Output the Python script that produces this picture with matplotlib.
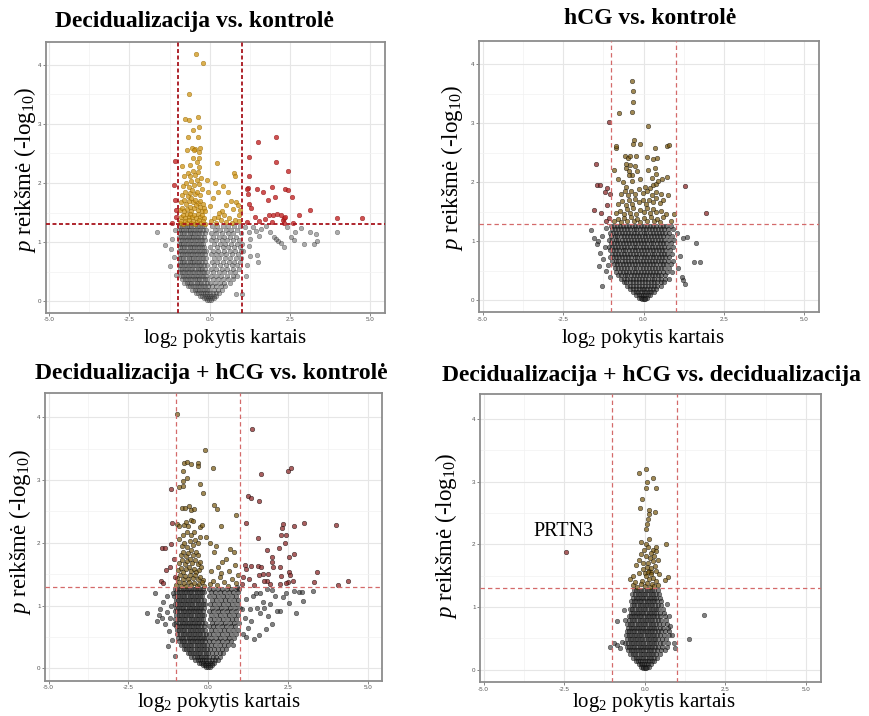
import numpy as np
import matplotlib
matplotlib.use("Agg")
import matplotlib.pyplot as plt
from matplotlib.ticker import MultipleLocator, FuncFormatter

plt.rcParams['font.family'] = ['Liberation Serif', 'DejaVu Serif']
plt.rcParams['mathtext.fontset'] = 'custom'
plt.rcParams['mathtext.rm'] = 'Liberation Serif'
plt.rcParams['mathtext.it'] = 'Liberation Serif:italic'

W, H = 869, 716

titles = ["Decidualizacija vs. kontrolė", "hCG vs. kontrolė",
          "Decidualizacija + hCG vs. kontrolė", "Decidualizacija + hCG vs. decidualizacija"]
x_label = "log$_2$ pokytis kartais"
y_label = "$p$ reikšmė (-log$_{10}$)"
fc_cut = 1.0
p_cut = 1.3

# ---- Decidualizacija vs. kontrolė : individually read points (log2FC, -log10 p)
dec_points = [
    (-0.42, 4.18), (-0.22, 4.03), (-0.64, 3.50), (-0.77, 3.09), (-0.65, 3.06), (-0.35, 3.11),
    (-0.52, 2.89), (-0.34, 2.94), (-0.69, 2.78), (-0.38, 2.78), (-0.56, 2.60), (-0.47, 2.58),
    (-0.29, 2.60), (-0.70, 2.55), (-0.50, 2.55), (-0.34, 2.52), (-0.51, 2.42), (-0.33, 2.42),
    (-0.86, 2.28), (-0.62, 2.30), (-0.40, 2.35), (-0.32, 2.27),
    (-0.79, 2.12), (-0.68, 2.17), (-0.60, 2.11), (-0.52, 2.20), (-0.45, 2.14), (-0.36, 2.19),
    (-0.83, 1.95), (-0.74, 2.00), (-0.66, 1.94), (-0.58, 2.03), (-0.49, 1.97), (-0.41, 2.05),
    (-0.33, 1.99), (-0.27, 2.08),
    (-0.86, 1.80), (-0.77, 1.84), (-0.69, 1.78), (-0.61, 1.83), (-0.54, 1.88), (-0.47, 1.81),
    (-0.39, 1.85), (-0.31, 1.79), (-0.24, 1.90),
    (-0.88, 1.67), (-0.80, 1.71), (-0.73, 1.65), (-0.66, 1.69), (-0.59, 1.74), (-0.52, 1.68),
    (-0.45, 1.72), (-0.38, 1.66), (-0.30, 1.70), (-0.22, 1.64),
    (-0.92, 1.55), (-0.85, 1.58), (-0.79, 1.52), (-0.71, 1.56), (-0.63, 1.60), (-0.57, 1.53),
    (-0.50, 1.57), (-0.44, 1.62), (-0.37, 1.55), (-0.31, 1.59), (-0.25, 1.53), (-0.19, 1.57),
    (-0.90, 1.42), (-0.84, 1.46), (-0.78, 1.41), (-0.72, 1.47), (-0.66, 1.43), (-0.60, 1.48),
    (-0.54, 1.42), (-0.48, 1.46), (-0.42, 1.41), (-0.36, 1.47), (-0.30, 1.43), (-0.24, 1.45),
    (-0.18, 1.40),
    (-0.93, 1.33), (-0.88, 1.36), (-0.82, 1.31), (-0.76, 1.35), (-0.70, 1.32), (-0.64, 1.37),
    (-0.58, 1.33), (-0.52, 1.36), (-0.46, 1.31), (-0.40, 1.34), (-0.34, 1.38), (-0.28, 1.32),
    (-0.22, 1.35), (-0.16, 1.31),
    (0.22, 2.34), (0.76, 2.17), (0.78, 2.11), (0.27, 1.85), (0.58, 1.85), (0.82, 1.67),
    (0.87, 1.63), (0.72, 1.56), (0.38, 1.52), (0.28, 1.50), (0.27, 1.42), (0.01, 1.61),
    (-0.14, 1.53), (0.05, 1.35), (0.12, 1.40), (0.18, 1.33), (0.35, 1.37), (0.45, 1.45),
    (0.52, 1.34), (0.60, 1.40), (0.68, 1.32), (0.80, 1.38), (0.92, 1.45), (0.95, 1.55),
    (0.90, 1.35), (0.10, 1.75), (0.40, 1.95), (0.15, 2.00), (0.65, 1.70), (0.50, 1.62),
    (-0.05, 1.85), (-0.10, 2.05),
    (1.50, 2.70), (2.07, 2.77), (1.21, 2.44), (2.07, 2.36), (2.43, 2.21), (1.23, 2.11),
    (1.19, 1.91), (1.47, 1.89), (1.16, 1.90), (1.20, 1.82), (1.66, 1.84), (1.93, 1.93),
    (2.04, 1.77), (2.36, 1.89), (2.43, 1.88), (2.55, 1.76), (1.80, 1.71), (1.23, 1.65),
    (1.30, 1.58), (1.40, 1.42), (1.54, 1.35), (1.71, 1.39), (1.85, 1.46), (1.97, 1.46),
    (2.08, 1.47), (2.21, 1.46), (2.27, 1.37), (2.31, 1.40), (2.36, 1.42), (2.77, 1.46),
    (3.11, 1.55), (3.98, 1.40), (4.74, 1.41), (1.15, 1.34), (1.93, 1.34), (2.60, 1.32),
    (2.30, 1.33),
    (-1.07, 2.38), (-1.10, 1.97), (-1.07, 1.71), (-1.05, 1.55), (-1.18, 1.32), (-1.04, 1.42),
    (-1.64, 1.17), (-1.38, 0.95), (-1.25, 0.59), (-1.18, 1.06), (-1.21, 0.89), (-1.12, 0.75),
    (-1.08, 1.20), (-1.05, 0.45),
    (1.23, 1.17), (1.27, 1.06), (1.21, 0.94), (1.25, 0.76), (1.50, 0.66), (1.47, 0.78),
    (1.12, 0.43), (1.43, 1.19), (1.61, 1.22), (1.74, 1.27), (1.89, 1.17), (1.99, 1.09),
    (2.13, 1.01), (2.23, 0.99), (2.30, 0.91), (2.07, 1.05), (2.52, 1.08), (2.61, 1.04),
    (2.67, 1.17), (2.85, 1.23), (2.94, 0.96), (3.11, 1.17), (3.25, 0.96), (3.33, 1.02),
    (3.31, 1.13), (3.98, 1.17), (0.99, 0.12), (0.81, 0.12), (1.05, 0.85), (1.10, 1.25),
    (1.35, 1.25), (1.55, 1.10), (2.40, 1.25), (1.15, 0.62),
]

# dense non-significant cloud, read row by row: (-log10 p, [log2FC, ...])
dec_core = [
    (1.27, [-0.95, -0.87, -0.80, -0.72, -0.64, -0.57, -0.49, -0.41, -0.33, -0.25, -0.17, 0.06, 0.24, 0.41, 0.58, 0.76, 0.93]),
    (1.21, [-0.97, -0.90, -0.83, -0.75, -0.68, -0.60, -0.52, -0.45, -0.37, -0.29, -0.21, -0.13, 0.15, 0.33, 0.50, 0.67, 0.85]),
    (1.15, [-0.94, -0.86, -0.79, -0.71, -0.63, -0.56, -0.48, -0.40, -0.32, -0.24, -0.16, 0.03, 0.21, 0.39, 0.56, 0.74, 0.97]),
    (1.09, [-0.96, -0.89, -0.81, -0.74, -0.66, -0.58, -0.51, -0.43, -0.35, -0.27, -0.19, 0.11, 0.29, 0.46, 0.63, 0.81]),
    (1.03, [-0.93, -0.85, -0.78, -0.70, -0.62, -0.55, -0.47, -0.39, -0.31, -0.23, -0.15, 0.05, 0.20, 0.37, 0.54, 0.72, 0.90]),
    (0.97, [-0.97, -0.90, -0.82, -0.74, -0.67, -0.59, -0.51, -0.44, -0.36, -0.28, -0.20, 0.13, 0.31, 0.48, 0.66, 0.84, 0.99]),
    (0.91, [-0.94, -0.87, -0.79, -0.71, -0.63, -0.56, -0.48, -0.40, -0.33, -0.25, -0.17, 0.02, 0.22, 0.40, 0.58, 0.76, 0.94]),
    (0.85, [-0.96, -0.88, -0.81, -0.73, -0.65, -0.58, -0.50, -0.42, -0.34, -0.27, -0.19, -0.11, 0.09, 0.27, 0.45, 0.62, 0.80, 0.97]),
    (0.79, [-0.93, -0.85, -0.78, -0.70, -0.62, -0.54, -0.47, -0.39, -0.31, -0.23, -0.15, 0.04, 0.18, 0.35, 0.52, 0.70, 0.88]),
    (0.73, [-0.97, -0.89, -0.82, -0.74, -0.66, -0.59, -0.51, -0.43, -0.35, -0.28, -0.20, -0.12, 0.12, 0.30, 0.47, 0.64, 0.82, 0.98]),
    (0.67, [-0.94, -0.86, -0.79, -0.71, -0.63, -0.55, -0.48, -0.40, -0.32, -0.24, -0.16, 0.06, 0.24, 0.41, 0.59, 0.77, 0.93]),
    (0.61, [-0.96, -0.88, -0.80, -0.73, -0.65, -0.57, -0.50, -0.42, -0.34, -0.26, -0.18, -0.10, 0.14, 0.32, 0.50, 0.68, 0.86]),
    (0.55, [-0.93, -0.85, -0.77, -0.70, -0.62, -0.54, -0.46, -0.38, -0.31, -0.23, -0.15, 0.03, 0.20, 0.38, 0.55, 0.73, 0.92]),
    (0.49, [-0.95, -0.87, -0.79, -0.72, -0.64, -0.56, -0.48, -0.41, -0.33, -0.25, -0.17, -0.09, 0.11, 0.28, 0.46, 0.63, 0.80]),
    (0.43, [-0.90, -0.82, -0.75, -0.67, -0.59, -0.51, -0.44, -0.36, -0.28, -0.20, -0.12, 0.05, 0.19, 0.36, 0.53, 0.71, 0.86]),
    (0.37, [-0.86, -0.78, -0.71, -0.63, -0.55, -0.47, -0.40, -0.32, -0.24, -0.16, -0.08, 0.10, 0.26, 0.42, 0.58, 0.74]),
    (0.31, [-0.80, -0.72, -0.64, -0.57, -0.49, -0.41, -0.33, -0.26, -0.18, -0.10, 0.02, 0.16, 0.31, 0.46, 0.62]),
    (0.25, [-0.68, -0.60, -0.53, -0.45, -0.37, -0.30, -0.22, -0.14, -0.06, 0.07, 0.20, 0.34, 0.48]),
    (0.19, [-0.55, -0.47, -0.40, -0.32, -0.25, -0.17, -0.10, -0.02, 0.12, 0.25, 0.38]),
    (0.14, [-0.42, -0.35, -0.28, -0.21, -0.14, -0.07, 0.01, 0.10, 0.20, 0.30]),
    (0.09, [-0.30, -0.23, -0.16, -0.09, -0.03, 0.05, 0.13, 0.21]),
    (0.05, [-0.19, -0.12, -0.06, 0.00, 0.07, 0.14]),
    (0.02, [-0.08, -0.02, 0.04]),
]

# ---- hCG vs. kontrolė
hcg_points = [
    (-0.37, 3.72), (-0.34, 3.54), (-0.34, 3.37), (-0.37, 3.20), (-0.75, 3.17), (0.14, 2.95),
    (-0.30, 2.72), (-0.12, 2.65), (-0.32, 2.65), (-0.87, 2.59), (-0.85, 2.61), (0.35, 2.59),
    (0.74, 2.61), (0.80, 2.63),
    (-0.58, 2.44), (-0.48, 2.42), (-0.43, 2.45), (-0.24, 2.44), (0.11, 2.43), (0.30, 2.40),
    (0.42, 2.41), (-0.53, 2.32), (-0.41, 2.30), (-0.25, 2.27), (-0.55, 2.24), (-0.46, 2.19),
    (-0.35, 2.12), (-0.20, 2.20), (-0.45, 2.13), (-0.92, 2.21), (0.14, 2.21), (0.35, 2.25),
    (0.40, 2.15), (0.74, 2.10),
    (-0.65, 2.00), (-0.55, 1.93), (0.05, 1.93), (0.20, 1.90), (0.30, 1.96), (0.38, 1.98),
    (0.46, 2.02), (-0.80, 2.05), (-0.35, 2.03), (-0.10, 2.06), (0.25, 2.08), (0.58, 2.05),
    (-0.70, 1.80), (-0.58, 1.85), (-0.48, 1.78), (-0.38, 1.86), (-0.26, 1.80), (-0.15, 1.88),
    (-0.02, 1.82), (0.12, 1.85), (0.25, 1.79), (0.40, 1.84), (0.55, 1.80), (0.75, 1.78),
    (-0.78, 1.63), (-0.66, 1.68), (-0.55, 1.62), (-0.45, 1.70), (-0.35, 1.64), (-0.25, 1.72),
    (-0.15, 1.66), (-0.03, 1.70), (0.08, 1.63), (0.18, 1.71), (0.28, 1.66), (0.38, 1.73),
    (0.50, 1.65), (0.62, 1.70),
    (-0.85, 1.48), (-0.72, 1.52), (-0.62, 1.46), (-0.52, 1.55), (-0.42, 1.49), (-0.32, 1.56),
    (-0.22, 1.47), (-0.12, 1.53), (0.00, 1.50), (0.10, 1.57), (0.20, 1.48), (0.30, 1.55),
    (0.40, 1.50), (0.55, 1.52), (0.70, 1.47), (0.95, 1.46),
    (-0.92, 1.35), (-0.80, 1.38), (-0.70, 1.33), (-0.60, 1.40), (-0.50, 1.35), (-0.40, 1.42),
    (-0.30, 1.34), (-0.20, 1.38), (-0.10, 1.33), (0.02, 1.40), (0.12, 1.35), (0.22, 1.42),
    (0.32, 1.34), (0.42, 1.38), (0.52, 1.33), (0.62, 1.41), (0.85, 1.35),
    (-1.07, 3.03), (-1.49, 2.32), (-1.43, 1.95), (-1.34, 1.96), (-1.13, 1.90), (-1.20, 1.83),
    (-1.05, 1.80), (-1.55, 1.54), (-1.31, 1.49), (-1.12, 1.62), (-1.08, 1.40), (-1.18, 1.35),
    (1.30, 1.94), (1.93, 1.48),
    (1.62, 0.98), (1.58, 0.65), (1.75, 0.65), (1.34, 1.07), (1.22, 1.05), (1.23, 0.34),
    (1.18, 0.40), (1.28, 0.28), (1.08, 0.55), (1.12, 0.75), (1.05, 1.15), (-1.62, 1.19),
    (-1.29, 0.25), (-1.38, 0.59), (-1.54, 1.06), (-1.45, 0.95), (-1.30, 1.10), (-1.20, 0.90),
    (-1.35, 0.80), (-1.15, 1.22), (-1.10, 0.60), (-1.25, 0.70), (-1.05, 0.40), (-1.42, 1.00),
    (-1.18, 0.50),
]

hcg_core = [
    (1.27, [-1.02, -0.93, -0.83, -0.74, -0.64, -0.55, -0.45, -0.36, -0.26, -0.17, -0.07, 0.02, 0.12, 0.21, 0.31, 0.40, 0.50, 0.59, 0.69, 0.84]),
    (1.21, [-0.98, -0.88, -0.79, -0.69, -0.60, -0.50, -0.41, -0.31, -0.22, -0.12, -0.03, 0.07, 0.16, 0.26, 0.35, 0.45, 0.54, 0.64, 0.75, 0.92]),
    (1.15, [-1.05, -0.95, -0.86, -0.76, -0.67, -0.57, -0.48, -0.38, -0.29, -0.19, -0.10, 0.00, 0.09, 0.19, 0.28, 0.38, 0.47, 0.57, 0.67, 0.80]),
    (1.09, [-1.00, -0.90, -0.81, -0.71, -0.62, -0.52, -0.43, -0.33, -0.24, -0.14, -0.05, 0.05, 0.14, 0.24, 0.33, 0.43, 0.52, 0.62, 0.72, 0.88]),
    (1.03, [-1.07, -0.97, -0.87, -0.78, -0.68, -0.59, -0.49, -0.40, -0.30, -0.21, -0.11, -0.02, 0.08, 0.17, 0.27, 0.36, 0.46, 0.55, 0.65, 0.78, 0.95]),
    (0.97, [-1.02, -0.92, -0.83, -0.73, -0.64, -0.54, -0.45, -0.35, -0.26, -0.16, -0.07, 0.03, 0.12, 0.22, 0.31, 0.41, 0.50, 0.60, 0.70, 0.85]),
    (0.91, [-1.08, -0.98, -0.88, -0.79, -0.69, -0.60, -0.50, -0.41, -0.31, -0.22, -0.12, -0.03, 0.07, 0.16, 0.26, 0.35, 0.45, 0.54, 0.64, 0.76, 0.92]),
    (0.85, [-1.03, -0.94, -0.84, -0.75, -0.65, -0.56, -0.46, -0.37, -0.27, -0.18, -0.08, 0.01, 0.11, 0.20, 0.30, 0.39, 0.49, 0.58, 0.68, 0.82]),
    (0.79, [-0.99, -0.89, -0.80, -0.70, -0.61, -0.51, -0.42, -0.32, -0.23, -0.13, -0.04, 0.06, 0.15, 0.25, 0.34, 0.44, 0.53, 0.63, 0.74, 0.90]),
    (0.73, [-1.04, -0.95, -0.85, -0.76, -0.66, -0.57, -0.47, -0.38, -0.28, -0.19, -0.09, 0.00, 0.10, 0.19, 0.29, 0.38, 0.48, 0.57, 0.67, 0.80]),
    (0.67, [-0.97, -0.87, -0.78, -0.68, -0.59, -0.49, -0.40, -0.30, -0.21, -0.11, -0.02, 0.08, 0.17, 0.27, 0.36, 0.46, 0.55, 0.65, 0.77, 0.93]),
    (0.61, [-0.93, -0.83, -0.74, -0.64, -0.55, -0.45, -0.36, -0.26, -0.17, -0.07, 0.02, 0.12, 0.21, 0.31, 0.40, 0.50, 0.59, 0.70, 0.84]),
    (0.55, [-0.88, -0.79, -0.69, -0.60, -0.50, -0.41, -0.31, -0.22, -0.12, -0.03, 0.07, 0.16, 0.26, 0.35, 0.45, 0.54, 0.64, 0.78]),
    (0.49, [-0.84, -0.74, -0.65, -0.55, -0.46, -0.36, -0.27, -0.17, -0.08, 0.02, 0.11, 0.21, 0.30, 0.40, 0.49, 0.59, 0.72, 0.88]),
    (0.43, [-0.78, -0.69, -0.59, -0.50, -0.40, -0.31, -0.21, -0.12, -0.02, 0.07, 0.17, 0.26, 0.36, 0.45, 0.55, 0.67]),
    (0.37, [-0.70, -0.61, -0.51, -0.42, -0.32, -0.23, -0.13, -0.04, 0.06, 0.15, 0.25, 0.34, 0.44, 0.54, 0.66, 0.80]),
    (0.31, [-0.62, -0.53, -0.43, -0.34, -0.24, -0.15, -0.05, 0.04, 0.14, 0.23, 0.33, 0.42, 0.53, 0.64]),
    (0.25, [-0.52, -0.43, -0.33, -0.24, -0.14, -0.05, 0.05, 0.14, 0.24, 0.33, 0.43, 0.55]),
    (0.19, [-0.42, -0.33, -0.24, -0.15, -0.06, 0.03, 0.12, 0.21, 0.30, 0.40]),
    (0.14, [-0.32, -0.24, -0.16, -0.08, 0.00, 0.08, 0.16, 0.24, 0.33]),
    (0.09, [-0.22, -0.15, -0.08, -0.01, 0.06, 0.13, 0.20]),
    (0.05, [-0.13, -0.07, -0.01, 0.05, 0.11]),
    (0.02, [-0.06, 0.00, 0.05]),
]

# ---- Decidualizacija + hCG vs. kontrolė
dhcg_points = [
    (-0.96, 4.05), (-0.10, 3.48), (-0.75, 3.27), (-0.67, 3.28), (-0.54, 3.25), (-0.33, 3.27),
    (-0.31, 3.22), (0.16, 3.19), (-0.77, 3.14), (-0.65, 3.03), (-0.79, 2.98), (-0.25, 2.94),
    (-0.91, 2.89), (-0.77, 2.90), (-0.17, 2.80), (0.19, 2.60), (0.29, 2.54), (-0.83, 2.55),
    (-0.73, 2.55), (-0.60, 2.58), (-0.54, 2.53), (-0.44, 2.54), (0.86, 2.45), (0.40, 2.26),
    (-0.96, 2.30), (-0.92, 2.27), (-0.75, 2.29), (-0.62, 2.27), (-0.68, 2.33), (-0.55, 2.37),
    (-0.48, 2.35), (-0.25, 2.25), (-0.20, 2.28),
    (-0.77, 2.12), (-0.66, 2.17), (-0.52, 2.12), (-0.44, 2.18), (-0.90, 2.06),
    (-0.82, 1.95), (-0.74, 2.00), (-0.65, 1.94), (-0.57, 2.03), (-0.48, 1.97), (-0.40, 2.05),
    (-0.32, 1.99), (-0.24, 2.10),
    (-0.86, 1.81), (-0.78, 1.85), (-0.70, 1.79), (-0.62, 1.84), (-0.54, 1.88), (-0.46, 1.81),
    (-0.38, 1.86), (-0.30, 1.80),
    (-0.90, 1.68), (-0.81, 1.72), (-0.73, 1.66), (-0.65, 1.71), (-0.57, 1.75), (-0.49, 1.68),
    (-0.41, 1.72), (-0.33, 1.66), (-0.25, 1.70),
    (-0.94, 1.56), (-0.85, 1.60), (-0.77, 1.54), (-0.69, 1.58), (-0.61, 1.62), (-0.53, 1.55),
    (-0.45, 1.59), (-0.37, 1.53), (-0.29, 1.57), (-0.21, 1.61),
    (-0.96, 1.44), (-0.88, 1.48), (-0.80, 1.42), (-0.72, 1.47), (-0.64, 1.43), (-0.56, 1.49),
    (-0.48, 1.44), (-0.40, 1.48), (-0.32, 1.42), (-0.24, 1.46), (-0.16, 1.41),
    (-1.00, 1.33), (-0.92, 1.37), (-0.84, 1.32), (-0.76, 1.36), (-0.68, 1.31), (-0.60, 1.38),
    (-0.52, 1.33), (-0.44, 1.36), (-0.36, 1.31), (-0.28, 1.35), (-0.20, 1.38), (-0.12, 1.32),
    (0.05, 1.35), (0.15, 1.40), (0.28, 1.33), (0.38, 1.45), (0.50, 1.38), (0.62, 1.32),
    (0.75, 1.42), (0.88, 1.36), (0.95, 1.48), (0.10, 1.55), (0.30, 1.62), (0.45, 1.70),
    (0.65, 1.55), (0.80, 1.85), (0.70, 1.90), (0.55, 1.75), (0.20, 1.85), (0.05, 2.00),
    (-0.05, 2.10), (0.25, 1.95), (0.85, 1.65), (0.40, 1.52), (0.92, 1.30),
    (1.39, 3.81), (1.65, 3.10), (2.51, 3.15), (2.59, 3.19), (1.25, 2.75), (1.36, 2.72),
    (1.60, 2.66), (1.18, 2.31), (2.36, 2.30), (2.33, 2.24), (2.27, 2.13), (2.43, 2.13),
    (2.70, 2.26), (3.01, 2.31), (4.01, 2.29), (1.58, 2.08), (2.40, 2.00), (2.23, 1.92),
    (1.84, 1.88), (2.01, 1.77), (2.01, 1.69), (2.03, 1.62), (2.26, 1.62), (2.69, 1.82),
    (2.53, 1.78), (1.34, 1.63), (1.55, 1.63), (1.67, 1.62), (1.88, 1.50), (1.71, 1.50),
    (1.85, 1.40), (2.55, 1.53), (2.57, 1.48), (2.51, 1.38), (2.65, 1.39), (2.28, 1.47),
    (2.26, 1.35), (2.44, 1.36), (3.41, 1.53), (3.32, 1.37), (4.08, 1.33), (4.37, 1.39),
    (1.18, 1.58), (1.60, 1.48), (1.76, 1.40), (1.10, 1.45), (1.05, 1.35), (1.28, 1.42),
    (1.45, 1.33), (1.15, 1.65), (1.95, 1.35),
    (-1.15, 2.85), (-1.43, 1.91), (-1.36, 1.91), (-1.33, 1.56), (-1.48, 1.40), (-1.42, 1.36),
    (-1.12, 2.31), (-1.15, 1.98), (-1.08, 1.75), (-1.20, 1.62), (-1.05, 1.45),
    (2.99, 1.07), (2.76, 0.88), (3.30, 1.23), (2.70, 1.23), (2.85, 1.21), (2.95, 1.22),
    (2.54, 1.04), (2.35, 1.13), (2.25, 0.92), (2.15, 0.92), (2.01, 0.70), (1.88, 0.84),
    (1.76, 0.97), (1.63, 0.88), (1.61, 0.53), (1.44, 0.47), (1.94, 1.03), (2.01, 1.25),
    (1.86, 1.26), (1.71, 1.05), (1.53, 0.96), (1.40, 1.15), (1.30, 0.95), (1.20, 1.10),
    (1.15, 0.80), (1.25, 0.65), (1.35, 0.75), (1.50, 1.20), (1.10, 0.55), (1.20, 0.50),
    (1.05, 0.95), (1.62, 1.20), (2.10, 1.15), (2.45, 1.20), (1.80, 0.62),
    (-1.90, 0.88), (-1.67, 1.20), (-1.50, 0.95), (-1.45, 0.80), (-1.40, 1.05), (-1.35, 0.70),
    (-1.30, 0.90), (-1.28, 1.15), (-1.22, 0.60), (-1.18, 0.80), (-1.15, 1.00), (-1.12, 0.45),
    (-1.10, 1.20), (-1.25, 0.35), (-1.55, 0.85), (-1.08, 0.70), (-1.60, 0.75), (-1.05, 0.20),
]

dhcg_core = [
    (1.27, [-1.04, -0.96, -0.88, -0.80, -0.72, -0.64, -0.56, -0.48, -0.40, -0.32, -0.24, -0.16, 0.02, 0.16, 0.30, 0.44, 0.58, 0.72, 0.86, 0.98]),
    (1.21, [-1.00, -0.92, -0.84, -0.76, -0.68, -0.60, -0.52, -0.44, -0.36, -0.28, -0.20, -0.12, 0.09, 0.23, 0.37, 0.51, 0.65, 0.79, 0.93]),
    (1.15, [-1.06, -0.98, -0.90, -0.82, -0.74, -0.66, -0.58, -0.50, -0.42, -0.34, -0.26, -0.18, 0.04, 0.18, 0.32, 0.46, 0.60, 0.74, 0.88]),
    (1.09, [-1.02, -0.94, -0.86, -0.78, -0.70, -0.62, -0.54, -0.46, -0.38, -0.30, -0.22, -0.14, 0.11, 0.25, 0.39, 0.53, 0.67, 0.81, 0.95]),
    (1.03, [-1.05, -0.97, -0.89, -0.81, -0.73, -0.65, -0.57, -0.49, -0.41, -0.33, -0.25, -0.17, -0.09, 0.06, 0.20, 0.34, 0.48, 0.62, 0.76, 0.90]),
    (0.97, [-1.01, -0.93, -0.85, -0.77, -0.69, -0.61, -0.53, -0.45, -0.37, -0.29, -0.21, -0.13, 0.13, 0.27, 0.41, 0.55, 0.69, 0.83, 0.99]),
    (0.91, [-1.04, -0.96, -0.88, -0.80, -0.72, -0.64, -0.56, -0.48, -0.40, -0.32, -0.24, -0.16, 0.03, 0.17, 0.31, 0.45, 0.59, 0.73, 0.87]),
    (0.85, [-1.00, -0.92, -0.84, -0.76, -0.68, -0.60, -0.52, -0.44, -0.36, -0.28, -0.20, -0.12, 0.10, 0.24, 0.38, 0.52, 0.66, 0.80, 0.94]),
    (0.79, [-1.03, -0.95, -0.87, -0.79, -0.71, -0.63, -0.55, -0.47, -0.39, -0.31, -0.23, -0.15, 0.05, 0.19, 0.33, 0.47, 0.61, 0.75, 0.89]),
    (0.73, [-0.99, -0.91, -0.83, -0.75, -0.67, -0.59, -0.51, -0.43, -0.35, -0.27, -0.19, -0.11, 0.12, 0.26, 0.40, 0.54, 0.68, 0.82, 0.97]),
    (0.67, [-1.02, -0.94, -0.86, -0.78, -0.70, -0.62, -0.54, -0.46, -0.38, -0.30, -0.22, -0.14, 0.02, 0.15, 0.29, 0.43, 0.57, 0.71, 0.85]),
    (0.61, [-0.98, -0.90, -0.82, -0.74, -0.66, -0.58, -0.50, -0.42, -0.34, -0.26, -0.18, -0.10, 0.08, 0.22, 0.36, 0.50, 0.64, 0.78, 0.93]),
    (0.55, [-0.96, -0.88, -0.80, -0.72, -0.64, -0.56, -0.48, -0.40, -0.32, -0.24, -0.16, -0.08, 0.04, 0.17, 0.31, 0.45, 0.59, 0.73, 0.86]),
    (0.49, [-0.93, -0.85, -0.77, -0.69, -0.61, -0.53, -0.45, -0.37, -0.29, -0.21, -0.13, -0.05, 0.10, 0.24, 0.38, 0.52, 0.66, 0.80]),
    (0.43, [-0.90, -0.82, -0.74, -0.66, -0.58, -0.50, -0.42, -0.34, -0.26, -0.18, -0.10, 0.03, 0.16, 0.30, 0.44, 0.58, 0.72]),
    (0.37, [-0.84, -0.76, -0.68, -0.60, -0.52, -0.44, -0.36, -0.28, -0.20, -0.12, -0.04, 0.09, 0.22, 0.36, 0.50, 0.64, 0.78]),
    (0.31, [-0.76, -0.68, -0.60, -0.52, -0.44, -0.36, -0.28, -0.20, -0.12, -0.04, 0.06, 0.18, 0.31, 0.44, 0.57]),
    (0.25, [-0.64, -0.56, -0.48, -0.40, -0.32, -0.24, -0.16, -0.08, 0.01, 0.12, 0.24, 0.36, 0.48]),
    (0.19, [-0.52, -0.44, -0.36, -0.28, -0.21, -0.13, -0.05, 0.04, 0.14, 0.25, 0.36]),
    (0.14, [-0.40, -0.33, -0.26, -0.19, -0.12, -0.05, 0.03, 0.12, 0.21, 0.30]),
    (0.09, [-0.28, -0.21, -0.15, -0.08, -0.02, 0.05, 0.12, 0.20]),
    (0.05, [-0.17, -0.11, -0.05, 0.01, 0.07, 0.13]),
    (0.02, [-0.07, -0.01, 0.05]),
]

# ---- Decidualizacija + hCG vs. decidualizacija
dvd_points = [
    (0.03, 3.20), (-0.18, 3.14), (0.26, 3.06), (0.08, 3.00), (0.03, 2.90), (0.36, 2.89),
    (-0.08, 2.72), (-0.16, 2.58), (0.12, 2.54), (0.13, 2.48), (0.31, 2.52), (0.11, 2.40),
    (0.07, 2.33), (0.03, 2.24), (0.67, 2.01),
    (-0.13, 2.04), (0.03, 2.01), (0.13, 2.08), (0.11, 1.96), (0.26, 1.91), (0.36, 1.95),
    (0.36, 1.89), (-0.02, 1.91), (0.20, 1.86), (0.30, 1.81), (-0.18, 1.75), (-0.26, 1.67),
    (-0.05, 1.70), (0.11, 1.70), (0.26, 1.73), (0.31, 1.65), (0.14, 1.57), (0.00, 1.54),
    (0.20, 1.55), (0.05, 1.50), (-0.18, 1.54), (-0.37, 1.50), (-0.45, 1.45), (0.73, 1.48),
    (0.62, 1.43), (0.36, 1.41), (-0.08, 1.42),
    (-0.35, 1.35), (-0.25, 1.32), (-0.12, 1.36), (0.00, 1.33), (0.08, 1.38), (0.15, 1.32),
    (0.22, 1.36), (0.30, 1.33), (0.42, 1.35), (-0.30, 1.40), (0.12, 1.45), (0.25, 1.47),
    (-0.05, 1.60), (0.08, 1.63), (0.20, 1.62), (0.35, 1.58), (0.15, 1.78), (0.05, 1.82),
    (0.40, 1.75), (-0.10, 1.85), (0.45, 1.52), (0.10, 1.55), (0.18, 1.52),
    (-2.43, 1.88),
    (1.85, 0.88), (1.36, 0.49), (-0.86, 0.77), (-1.07, 0.37), (-0.95, 0.42), (-0.85, 0.40),
    (0.90, 0.43), (0.85, 0.55), (0.80, 0.70), (-0.70, 0.45), (-0.78, 0.35), (0.95, 0.35),
    (-0.60, 0.80), (0.75, 0.85), (-0.65, 0.95), (0.70, 1.05),
]

dvd_core = [
    (1.27, [-0.34, -0.26, -0.18, -0.10, -0.02, 0.06, 0.14, 0.22, 0.30, 0.40]),
    (1.21, [-0.38, -0.30, -0.22, -0.14, -0.06, 0.02, 0.10, 0.18, 0.26, 0.34, 0.44]),
    (1.15, [-0.36, -0.28, -0.20, -0.12, -0.04, 0.04, 0.12, 0.20, 0.28, 0.36, 0.48]),
    (1.09, [-0.42, -0.34, -0.26, -0.18, -0.10, -0.02, 0.06, 0.14, 0.22, 0.30, 0.38, 0.50]),
    (1.03, [-0.40, -0.32, -0.24, -0.16, -0.08, 0.00, 0.08, 0.16, 0.24, 0.32, 0.40, 0.52]),
    (0.97, [-0.46, -0.38, -0.30, -0.22, -0.14, -0.06, 0.02, 0.10, 0.18, 0.26, 0.34, 0.42, 0.56]),
    (0.91, [-0.44, -0.36, -0.28, -0.20, -0.12, -0.04, 0.04, 0.12, 0.20, 0.28, 0.36, 0.46, 0.60]),
    (0.85, [-0.50, -0.42, -0.34, -0.26, -0.18, -0.10, -0.02, 0.06, 0.14, 0.22, 0.30, 0.38, 0.48, 0.62]),
    (0.79, [-0.48, -0.40, -0.32, -0.24, -0.16, -0.08, 0.00, 0.08, 0.16, 0.24, 0.32, 0.40, 0.52, 0.66]),
    (0.73, [-0.54, -0.46, -0.38, -0.30, -0.22, -0.14, -0.06, 0.02, 0.10, 0.18, 0.26, 0.34, 0.44, 0.56, 0.68]),
    (0.67, [-0.52, -0.44, -0.36, -0.28, -0.20, -0.12, -0.04, 0.04, 0.12, 0.20, 0.28, 0.36, 0.46, 0.58, 0.72]),
    (0.61, [-0.56, -0.48, -0.40, -0.32, -0.24, -0.16, -0.08, 0.00, 0.08, 0.16, 0.24, 0.32, 0.40, 0.50, 0.62, 0.74]),
    (0.55, [-0.58, -0.50, -0.42, -0.34, -0.26, -0.18, -0.10, -0.02, 0.06, 0.14, 0.22, 0.30, 0.38, 0.48, 0.60, 0.76]),
    (0.49, [-0.55, -0.47, -0.39, -0.31, -0.23, -0.15, -0.07, 0.01, 0.09, 0.17, 0.25, 0.33, 0.42, 0.54, 0.66]),
    (0.43, [-0.60, -0.52, -0.44, -0.36, -0.28, -0.20, -0.12, -0.04, 0.04, 0.12, 0.20, 0.28, 0.36, 0.46, 0.58, 0.72]),
    (0.37, [-0.56, -0.48, -0.40, -0.32, -0.24, -0.16, -0.08, 0.00, 0.08, 0.16, 0.24, 0.32, 0.42, 0.54, 0.68]),
    (0.31, [-0.52, -0.44, -0.36, -0.28, -0.20, -0.12, -0.04, 0.04, 0.12, 0.20, 0.28, 0.38, 0.50, 0.62]),
    (0.25, [-0.45, -0.37, -0.29, -0.21, -0.13, -0.05, 0.03, 0.11, 0.19, 0.27, 0.36, 0.48]),
    (0.19, [-0.36, -0.28, -0.20, -0.12, -0.04, 0.04, 0.12, 0.20, 0.29, 0.38]),
    (0.14, [-0.28, -0.21, -0.14, -0.07, 0.00, 0.07, 0.14, 0.22, 0.30]),
    (0.09, [-0.19, -0.13, -0.07, -0.01, 0.05, 0.11, 0.18]),
    (0.05, [-0.12, -0.06, 0.00, 0.06, 0.12]),
    (0.02, [-0.05, 0.00, 0.05]),
]

labelled_gene = ("PRTN3", -2.43, 1.88)

# panel boxes in pixels: left, top, right, bottom
boxes = [(45.7, 41.7, 385.0, 313.0), (479.0, 41.3, 819.3, 312.3),
         (45.0, 392.7, 382.3, 681.0), (480.0, 394.3, 820.7, 682.3)]
title_pos = [(194, 21), (650, 19), (211, 374), (651, 375)]
ylab_pos = [(25, 170), (452, 168), (20, 532), (446, 536)]
xlab_pos = [(225, 338), (643, 338), (219, 703), (654, 703)]

# (face, edge, alpha) per group
light = dict(ns=('#5a5a5a', '#1a1a1a', 0.5), gold=('#D09414', '#8F6200', 0.75),
             red=('#C42525', '#8A1010', 0.8), line='#A8141C', lw=1.3, dash=(2.2, 1.4))
dark = dict(ns=('#333333', '#000000', 0.62), gold=('#7A5A12', '#000000', 0.72),
            red=('#8C2A2A', '#000000', 0.75), line='#D46A6A', lw=0.9, dash=(3.5, 2.5))


def core_to_array(rows):
    pts = [(x, y) for y, xs in rows for x in xs]
    return np.array(pts)


def draw_panel(ax, points, core, style):
    pts = np.vstack([core_to_array(core), np.array(points)])
    x, y = pts[:, 0], pts[:, 1]
    sig = y > p_cut
    big = np.abs(x) > fc_cut
    groups = [('ns', ~sig), ('gold', sig & ~big), ('red', sig & big)]
    for z, (name, mask) in enumerate(groups):
        face, edge, a = style[name]
        ax.scatter(x[mask], y[mask], s=11, c=face, edgecolors=edge, linewidths=0.35,
                   alpha=a, zorder=2 + z)

    for v in (-fc_cut, fc_cut):
        ax.axvline(v, color=style['line'], lw=style['lw'], dashes=style['dash'], zorder=6)
    ax.axhline(p_cut, color=style['line'], lw=style['lw'], dashes=style['dash'], zorder=6)

    ax.set_xlim(-5.11, 5.46)
    ax.set_ylim(-0.2, 4.39)
    ax.xaxis.set_major_locator(MultipleLocator(2.5))
    ax.xaxis.set_minor_locator(MultipleLocator(1.25))
    ax.yaxis.set_major_locator(MultipleLocator(1))
    ax.yaxis.set_minor_locator(MultipleLocator(0.5))
    ax.xaxis.set_major_formatter(FuncFormatter(lambda v, _: f"{v:.1f}"))
    ax.yaxis.set_major_formatter(FuncFormatter(lambda v, _: f"{v:.0f}"))
    ax.grid(which='major', color='#E6E6E6', lw=0.8, zorder=0)
    ax.grid(which='minor', color='#F2F2F2', lw=0.5, zorder=0)
    ax.set_axisbelow(True)
    ax.tick_params(which='major', length=2, width=0.5, color='#555555', labelsize=4.5,
                   labelcolor='#555555', pad=1.2)
    ax.tick_params(which='minor', length=0)
    for lab in ax.get_xticklabels() + ax.get_yticklabels():
        lab.set_family('Liberation Sans')
    for sp in ax.spines.values():
        sp.set_color('#8c8c8c')
        sp.set_linewidth(1.3)


fig = plt.figure(figsize=(W / 100, H / 100), dpi=100)

panels = [(dec_points, dec_core, light), (hcg_points, hcg_core, dark),
          (dhcg_points, dhcg_core, dark), (dvd_points, dvd_core, dark)]

for i, (points, core, style) in enumerate(panels):
    l, t, r, b = boxes[i]
    ax = fig.add_axes([l / W, 1 - b / H, (r - l) / W, (b - t) / H])
    draw_panel(ax, points, core, style)
    if i == 3:
        name, gx, gy = labelled_gene
        ax.text(gx - 0.09, gy + 0.32, name, fontsize=14.5, ha='center', va='center', zorder=7)

    tx, ty = title_pos[i]
    fig.text(tx / W, 1 - ty / H, titles[i], fontsize=17, fontweight='bold', ha='center', va='center')
    yx, yy = ylab_pos[i]
    fig.text(yx / W, 1 - yy / H, y_label, fontsize=16.5, rotation=90, ha='center', va='center')
    xx, xy = xlab_pos[i]
    fig.text(xx / W, 1 - xy / H, x_label, fontsize=15, ha='center', va='center')

fig.savefig("out.png", dpi=100)
